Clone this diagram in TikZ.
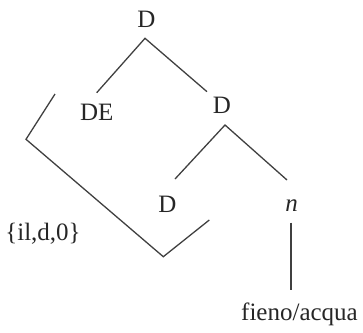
\documentclass[tikz,border=0pt]{standalone}
\usepackage{fontspec}
\setmainfont{Liberation Serif}
\begin{document}
\begin{tikzpicture}[x=1pt,y=-1pt,
  lbl/.style={anchor=base,inner sep=0pt,font=\fontsize{25}{30}\selectfont,text=black!85},
  edge/.style={draw=black!75,line width=1.3pt}]
\useasboundingbox (0,0) rectangle (363,332);
\node[lbl] (Dtop) at (146.5,27.3) {D};
\node[lbl] (DE) at (96.7,120) {DE};
\node[lbl] (Dr) at (222,113) {D};
\node[lbl] (Dl) at (167.5,212) {D};
\node[lbl] (n) at (291.5,211) {\itshape n};
\node[lbl] (fa) at (299.5,320) {fieno/acqua};
\node[lbl] (set) at (43,240) {\{il,d,0\}};
\coordinate (t0) at (145,38.3);
\coordinate (t1) at (96.7,92.7);
\coordinate (t2) at (207,91.7);
\coordinate (r0) at (225,125);
\coordinate (r1) at (175,179);
\coordinate (r2) at (287,180);
\coordinate (n0) at (291,222.7);
\coordinate (n1) at (291,290);
\coordinate (b0) at (55,94);
\coordinate (b1) at (26,139.3);
\coordinate (b2) at (163.3,256.7);
\coordinate (b3) at (209.3,220);
\draw[edge] (t1) -- (t0) -- (t2);
\draw[edge] (r1) -- (r0) -- (r2);
\draw[edge] (n0) -- (n1);
\draw[edge] (b0) -- (b1) -- (b2) -- (b3);
\end{tikzpicture}
\end{document}
